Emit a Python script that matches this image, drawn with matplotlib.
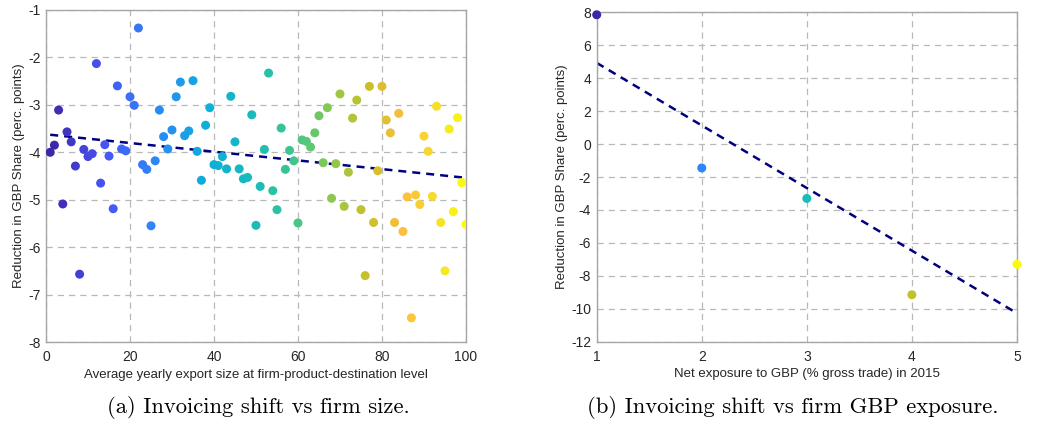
import numpy as np
import matplotlib
matplotlib.use("Agg")
import matplotlib.pyplot as plt
from matplotlib.colors import LinearSegmentedColormap

# Panel (a): firm size bins vs reduction in GBP share
size_bin = np.arange(1, 101)
shift_a = [-4.00, -3.85, -3.11, -5.09, -3.57, -3.78, -4.29, -6.57, -3.94, -4.09,
           -4.03, -2.13, -4.65, -3.84, -4.08, -5.19, -2.60, -3.93, -3.97, -2.83,
           -3.01, -1.38, -4.26, -4.36, -5.55, -4.18, -3.11, -3.67, -3.93, -3.53,
           -2.83, -2.52, -3.65, -3.55, -2.49, -3.98, -4.59, -3.43, -3.06, -4.26,
           -4.28, -4.09, -4.35, -2.82, -3.78, -4.35, -4.56, -4.53, -3.21, -5.54,
           -4.72, -3.94, -2.33, -4.81, -5.21, -3.49, -4.36, -3.96, -4.18, -5.49,
           -3.74, -3.77, -3.89, -3.59, -3.23, -4.22, -3.06, -4.97, -4.24, -2.77,
           -5.14, -4.42, -3.28, -2.90, -5.21, -6.60, -2.61, -5.48, -4.39, -2.61,
           -3.32, -3.59, -5.48, -3.18, -5.67, -4.94, -7.49, -4.90, -5.10, -3.66,
           -3.98, -4.93, -3.03, -5.48, -6.50, -3.51, -5.25, -3.27, -4.64, -5.52]

# Panel (b): net GBP exposure bins
exposure_bin = [1, 2, 3, 4, 5]
shift_b = [7.85, -1.45, -3.30, -9.15, -7.30]

# parula-like colormap
parula = LinearSegmentedColormap.from_list("parula", [
    (0.000, (0.2422, 0.1504, 0.6603)),
    (0.125, (0.2810, 0.3228, 0.9579)),
    (0.250, (0.1786, 0.5289, 0.9682)),
    (0.375, (0.0500, 0.6800, 0.8600)),
    (0.500, (0.1000, 0.7400, 0.7200)),
    (0.600, (0.2800, 0.7800, 0.5200)),
    (0.700, (0.6300, 0.7800, 0.2500)),
    (0.770, (0.8000, 0.7500, 0.1600)),
    (0.850, (0.9892, 0.7419, 0.2480)),
    (0.940, (0.9610, 0.8890, 0.1537)),
    (1.000, (0.9763, 0.9831, 0.0538)),
])

plt.rcParams['font.family'] = ['Liberation Sans', 'DejaVu Sans']
plt.rcParams['axes.unicode_minus'] = False
txt = '#262626'
grid_kw = dict(color='#b8b8b8', linestyle=(0, (5, 4)), linewidth=0.9)

fig = plt.figure(figsize=(10.41, 4.32), dpi=100)
ax1 = fig.add_axes([0.0442, 0.2083, 0.4034, 0.7686])
ax2 = fig.add_axes([0.5732, 0.2090, 0.4037, 0.7625])


def style(ax):
    ax.grid(True, **grid_kw)
    ax.set_axisbelow(True)
    for s in ax.spines.values():
        s.set_color('#a6a6a6')
        s.set_linewidth(1.0)
    ax.tick_params(direction='in', length=0, labelsize=10, colors=txt)
    ax.tick_params(axis='y', pad=4)
    ax.tick_params(axis='x', pad=6)


def trend(ax, x, y):
    b, a = np.polyfit(x, y, 1)
    xs = np.array([min(x), max(x)])
    ax.plot(xs, a + b * xs, color='#000080', linestyle=(0, (3.2, 2.4)), linewidth=1.8)


# (a)
ax1.scatter(size_bin, shift_a, c=size_bin, cmap=parula, s=42, edgecolors='none', zorder=3)
trend(ax1, size_bin, shift_a)
ax1.set_xlim(0, 100)
ax1.set_ylim(-8, -1)
ax1.set_xticks(range(0, 101, 20))
ax1.set_yticks(range(-8, 0))
style(ax1)
ax1.set_xlabel('Average yearly export size at firm-product-destination level',
               fontsize=9.5, color=txt, labelpad=3)
ax1.set_ylabel('Reduction in GBP Share (perc. points)', fontsize=9.5, color=txt, labelpad=2)

# (b)
ax2.scatter(exposure_bin, shift_b, c=exposure_bin, cmap=parula, s=42,
            edgecolors='none', zorder=3, clip_on=False)
trend(ax2, exposure_bin, shift_b)
ax2.set_xlim(1, 5)
ax2.set_ylim(-12, 8)
ax2.set_xticks(range(1, 6))
ax2.set_yticks(range(-12, 9, 2))
style(ax2)
ax2.set_xlabel('Net exposure to GBP (% gross trade) in 2015', fontsize=9.5, color=txt, labelpad=3)
ax2.set_ylabel('Reduction in GBP Share (perc. points)', fontsize=9.5, color=txt, labelpad=2)

# captions
cap = dict(fontsize=16.3, family='cmr10', ha='center', va='center', color='black')
fig.text(0.248, 0.056, '(a) Invoicing shift vs firm size.', **cap)
fig.text(0.762, 0.056, '(b) Invoicing shift vs firm GBP exposure.', **cap)

fig.savefig('out.png', dpi=100)
